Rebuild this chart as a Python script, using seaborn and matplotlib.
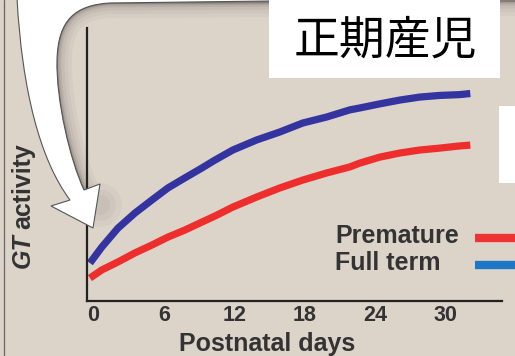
import numpy as np
import pandas as pd
import matplotlib
matplotlib.use('Agg')
import matplotlib.pyplot as plt
import seaborn as sns
from matplotlib.path import Path
from matplotlib.patches import PathPatch, Rectangle
from matplotlib.lines import Line2D

# GT activity vs postnatal days (arbitrary units)
days = [-0.30, 0.72, 2.09, 3.53, 4.98, 6.34, 7.79, 9.23, 10.34, 11.87, 13.91,
        15.87, 17.83, 19.87, 21.83, 22.68, 24.38, 26.09, 27.79, 29.49, 31.19, 32.1]
full_term = [13.9, 19.8, 26.7, 32.2, 37.0, 41.4, 45.1, 48.7, 51.6, 55.3, 59.0,
             61.9, 65.2, 67.4, 70.0, 70.7, 72.2, 73.6, 74.7, 75.3, 75.6, 76.0]
premature = [8.4, 11.4, 14.3, 17.6, 20.5, 23.4, 26.0, 28.9, 31.1, 34.4, 38.1,
             41.4, 44.3, 46.9, 49.1, 50.5, 52.7, 54.2, 55.3, 56.0, 56.8, 57.1]
x_ticks = [0, 6, 12, 18, 24, 30]
legend_labels = ['Premature', 'Full term']
title_jp = '正期産児'

df = pd.DataFrame({
    'day': days * 2,
    'activity': premature + full_term,
    'group': ['Premature'] * len(days) + ['Full term'] * len(days),
})

sns.set_theme(style='white')
plt.rcParams['font.family'] = ['Liberation Sans', 'DejaVu Sans']

W, H = 515, 356
bgcol = '#dcd3c9'
txtcol = '#333333'

fig = plt.figure(figsize=(W / 100, H / 100), dpi=100, facecolor=bgcol)

# back layer: rounded panel edge shading
back = fig.add_axes([0, 0, 1, 1], zorder=0)
back.set_xlim(0, W)
back.set_ylim(H, 0)
back.axis('off')
back.set_facecolor(bgcol)

edge_verts = [(84, 190), (70, 160), (56, 100), (57, 60),
              (58, 20), (75, 5), (110, 3), (520, 1)]
edge_codes = [Path.MOVETO, Path.CURVE4, Path.CURVE4, Path.CURVE4,
              Path.CURVE4, Path.CURVE4, Path.CURVE4, Path.LINETO]
edge_path = Path(edge_verts, edge_codes)
for w, a in [(30, 0.05), (22, 0.06), (15, 0.08), (9, 0.12), (5, 0.18), (2, 0.5)]:
    back.add_patch(PathPatch(edge_path, fill=False, edgecolor='#5e5955',
                             lw=w * 0.72, alpha=a, capstyle='butt'))
back.plot([4, 4], [0, H], color='#666666', lw=0.9)

# soft shadow near the arrow head
for r, a in [(22, 0.04), (16, 0.05), (10, 0.06)]:
    back.add_patch(plt.Circle((100, 205), r, color='#555555', alpha=a, lw=0))

# main chart
ax = fig.add_axes([87 / W, 1 - 301 / H, 415 / W, 273 / H], zorder=1)
ax.set_facecolor('none')
sns.lineplot(data=df, x='day', y='activity', hue='group',
             palette={'Premature': '#ee2d2d', 'Full term': '#3434a0'},
             linewidth=5.2, legend=False, ax=ax)
for ln in ax.lines:
    ln.set_solid_capstyle('butt')
    ln.set_solid_joinstyle('round')

ax.set_xlim(-0.55, 34.8)
ax.set_ylim(0, 100)
ax.set_xticks(x_ticks)
ax.set_xticklabels([str(t) for t in x_ticks], fontsize=15.5, fontweight='bold', color=txtcol)
ax.set_yticks([])
ax.tick_params(axis='x', length=0, pad=3)
sns.despine(ax=ax)
for s in ['left', 'bottom']:
    ax.spines[s].set_color('#222222')
    ax.spines[s].set_linewidth(1.6)
ax.set_xlabel('Postnatal days', fontsize=18, fontweight='bold', color=txtcol)
ax.xaxis.set_label_coords(0.434, -0.115)
ax.set_ylabel('')

# y label: italic GT + activity
fig.text(23 / W, 1 - 268 / H, 'GT', rotation=90, ha='center', va='bottom',
         fontsize=18, fontweight='bold', style='italic', color=txtcol)
fig.text(23 / W, 1 - 229 / H, 'activity', rotation=90, ha='center', va='bottom',
         fontsize=18, fontweight='bold', color=txtcol)

# legend
leg_cols = ['#ee3333', '#1e76c6']
leg_y = [236, 263]
for lab, col, yy in zip(legend_labels, leg_cols, leg_y):
    fig.text(335 / W, 1 - yy / H, lab, ha='left', va='center',
             fontsize=18, fontweight='bold', color=txtcol)
    fig.add_artist(Line2D([475 / W, 1.05], [1 - (yy + 2) / H] * 2,
                          color=col, lw=6, solid_capstyle='butt'))

# front layer: white arrow and boxes
front = fig.add_axes([0, 0, 1, 1], zorder=2)
front.set_xlim(0, W)
front.set_ylim(H, 0)
front.axis('off')
front.set_facecolor('none')

arrow_verts = [(17, -2), (22, 90), (40, 160), (70, 200),
               (51, 206), (93, 228), (100, 184), (84, 190),
               (70, 160), (56, 100), (57, 60),
               (58, 20), (75, 5), (110, 3),
               (270, 1), (270, -2), (17, -2)]
arrow_codes = [Path.MOVETO, Path.CURVE4, Path.CURVE4, Path.CURVE4,
               Path.LINETO, Path.LINETO, Path.LINETO, Path.LINETO,
               Path.CURVE4, Path.CURVE4, Path.CURVE4,
               Path.CURVE4, Path.CURVE4, Path.CURVE4,
               Path.LINETO, Path.LINETO, Path.CLOSEPOLY]
front.add_patch(PathPatch(Path(arrow_verts, arrow_codes), facecolor='white',
                          edgecolor='#555555', lw=0.8))

front.add_patch(Rectangle((269, -1), 231, 79, facecolor='white', edgecolor='none'))
front.text(385, 40, title_jp, ha='center', va='center', fontsize=33,
           color='black', family=['Noto Sans CJK JP', 'DejaVu Sans'])
front.add_patch(Rectangle((499, 106), 20, 77, facecolor='white', edgecolor='none'))

fig.savefig('out.png', dpi=100, facecolor=bgcol)
